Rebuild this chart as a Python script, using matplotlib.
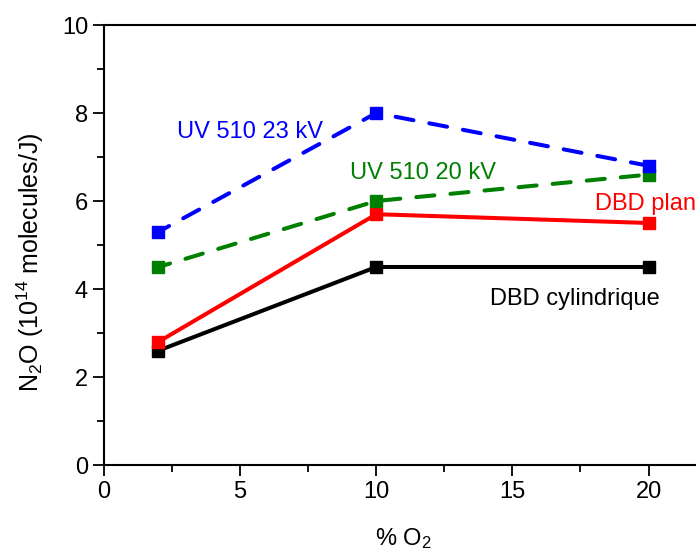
import matplotlib
matplotlib.use("Agg")
import matplotlib.pyplot as plt
from matplotlib.ticker import MultipleLocator

plt.rcParams['font.family'] = ['Liberation Sans', 'DejaVu Sans']
plt.rcParams['mathtext.fontset'] = 'custom'
plt.rcParams['mathtext.rm'] = 'Liberation Sans'
plt.rcParams['mathtext.it'] = 'Liberation Sans:italic'

o2 = [2, 10, 20]
uv_23kv = [5.3, 8.0, 6.8]
uv_20kv = [4.5, 6.0, 6.6]
dbd_plan = [2.8, 5.7, 5.5]
dbd_cyl = [2.6, 4.5, 4.5]

W, H = 696, 553
fig = plt.figure(figsize=(W / 100, H / 100), dpi=100)
ax = fig.add_axes([104 / W, (H - 465) / H, 599 / W, 440 / H])

lw = 2.9
ms = 8
ax.plot(o2, dbd_cyl, color='black', lw=lw, marker='s', ms=ms, zorder=3)
ax.plot(o2, dbd_plan, color='#ff0000', lw=lw, marker='s', ms=ms, zorder=4)
ax.plot(o2, uv_20kv, color='#007f00', lw=lw, marker='s', ms=ms, zorder=5,
        linestyle=(1.5, (4.5, 4.0)), dash_capstyle='round')
ax.plot(o2, uv_23kv, color='#0000ff', lw=lw, marker='s', ms=ms, zorder=6,
        linestyle=(1.5, (4.5, 4.0)), dash_capstyle='round')

fs = 17
ax.text(2.68, 7.43, 'UV 510 23 kV', color='#0000ff', fontsize=fs, ha='left', va='baseline')
ax.text(9.04, 6.5, 'UV 510 20 kV', color='#007f00', fontsize=fs, ha='left', va='baseline')
ax.text(18.05, 5.8, 'DBD plan', color='#ff0000', fontsize=fs, ha='left', va='baseline')
ax.text(14.19, 3.64, 'DBD cylindrique', color='black', fontsize=fs, ha='left', va='baseline')

ax.set_xlim(0, 22)
ax.set_ylim(0, 10)
ax.xaxis.set_major_locator(MultipleLocator(5))
ax.xaxis.set_minor_locator(MultipleLocator(2.5))
ax.yaxis.set_major_locator(MultipleLocator(2))
ax.yaxis.set_minor_locator(MultipleLocator(1))
ax.tick_params(which='both', direction='out', width=1.3, labelsize=fs, top=False, right=False)
ax.tick_params(which='major', length=8)
ax.tick_params(which='minor', length=5)
for s in ax.spines.values():
    s.set_linewidth(1.5)

ax.set_xlabel('% O$_2$', fontsize=fs, labelpad=17)
ax.set_ylabel('N$_2$O (10$^{14}$ molecules/J)', fontsize=18)
ax.yaxis.set_label_coords(-0.097, 0.46)

fig.savefig('out.png', dpi=100)
